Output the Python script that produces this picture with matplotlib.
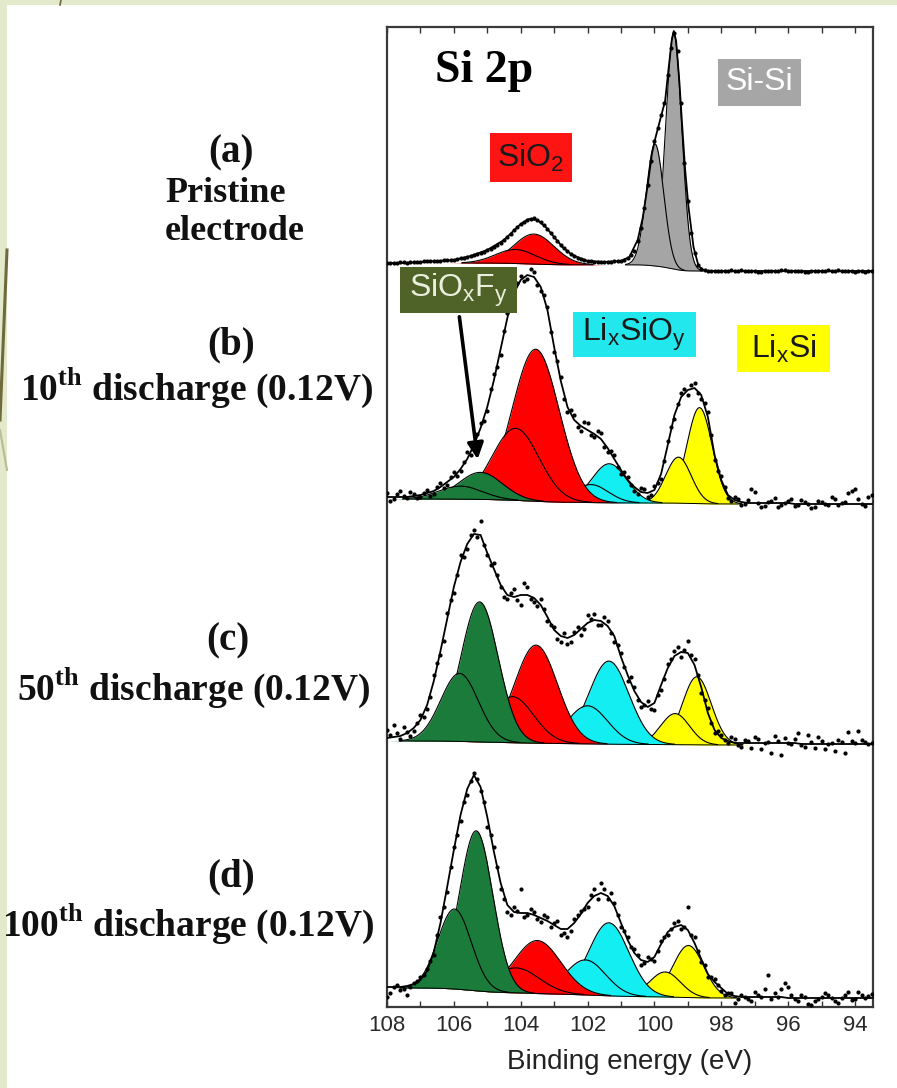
import numpy as np
import matplotlib
matplotlib.use("Agg")
import matplotlib.pyplot as plt
from matplotlib.patches import Rectangle, FancyArrowPatch
from matplotlib.lines import Line2D
from matplotlib.ticker import MultipleLocator, FixedLocator

plt.rcParams['font.family'] = ['Liberation Sans', 'DejaVu Sans']
plt.rcParams['mathtext.fontset'] = 'custom'
plt.rcParams['mathtext.rm'] = 'Liberation Sans'
plt.rcParams['mathtext.it'] = 'Liberation Sans'
plt.rcParams['mathtext.bf'] = 'Liberation Serif:bold'

# ---------------- data (intensity in arbitrary units above each spectrum's baseline) -------------
# measured points are sampled on two interleaved energy grids (eV)
GRID1 = (108.0, 93.4)   # first and last energy of set 1, step 0.2 eV
GRID2 = (107.9, 93.5)   # first and last energy of set 2, step 0.2 eV

# (a) pristine electrode -- measured points
DOTS_A = [10, 10, 11, 10, 11, 11, 12, 12, 12, 13,
          13, 15, 16, 18, 20, 23, 26, 30, 36, 43,
          49, 53, 55, 51, 44, 36, 28, 22, 17, 14,
          12, 11, 11, 11, 12, 12, 15, 22, 45, 88,
          132, 158, 198, 240, 170, 72, 20, 4, 2, 2,
          2, 2, 2, 3, 2, 2, 1, 2, 2, 3,
          2, 2, 2, 1, 2, 2, 3, 2, 2, 2,
          1, 2, 2, 2]
DOTS_A2 = [10, 10, 11, 11, 11, 12, 12, 12, 13, 13,
           14, 15, 17, 19, 21, 24, 28, 33, 39, 46,
           51, 54, 53, 48, 40, 32, 25, 19, 15, 13,
           12, 11, 11, 11, 12, 13, 18, 32, 65, 112,
           145, 170, 225, 222, 110, 40, 8, 3, 2, 2,
           2, 3, 2, 2, 2, 1, 2, 2, 2, 3,
           2, 2, 1, 2, 2, 2, 2, 3, 2, 2,
           2, 1, 2]
# (a) fitted envelope
ENV_A_E = [108.0, 107.5, 107.0, 106.5, 106.0, 105.5, 105.0, 104.5, 104.25, 104.0,
           103.75, 103.5, 103.25, 103.0, 102.75, 102.5, 102.25, 102.0, 101.5, 101.0,
           100.75, 100.5, 100.35, 100.2, 100.07, 99.97, 99.83, 99.68, 99.58, 99.48,
           99.42, 99.35, 99.25, 99.18, 99.08, 98.98, 98.83, 98.68, 98.5, 98.0,
           97.0, 96.0, 95.0, 94.0, 93.4]
ENV_A = [10, 10, 11, 12, 13, 17, 23, 33, 41, 49,
         54, 53, 46, 36, 26, 19, 15, 12, 11, 12,
         16, 33, 55, 88, 120, 135, 153, 172, 203, 233,
         242, 232, 190, 153, 103, 66, 26, 7, 2, 2,
         2, 2, 2, 2, 2]

# (b) 10th discharge
DOTS_B = [14, 8, 16, 9, 13, 10, 17, 13, 24, 22,
          35, 36, 55, 58, 84, 96, 133, 152, 194, 210,
          231, 228, 235, 216, 200, 155, 130, 95, 92, 76,
          84, 70, 74, 55, 52, 33, 30, 16, 19, 10,
          21, 28, 66, 88, 114, 112, 124, 108, 95, 47,
          31, 9, 10, 2, 7, 15, 0, 5, 9, 2,
          6, 1, 7, 3, 0, 5, 2, 8, 4, 14,
          18, 3, 10, 6]
DOTS_B2 = [6, 13, 11, 15, 9, 14, 11, 20, 19, 30,
           31, 45, 52, 73, 86, 118, 140, 176, 198, 224,
           226, 238, 222, 212, 175, 146, 108, 97, 80, 85,
           72, 76, 60, 56, 40, 35, 22, 13, 18, 12,
           24, 46, 80, 103, 118, 122, 114, 104, 72, 36,
           20, 6, 8, 3, 18, 4, 1, 6, 0, 4,
           8, 2, 5, -1, 6, 3, 10, 2, 5, 16,
           8, 1, 12]
ENV_B = [10, 10, 10, 10, 11, 12, 14, 16, 20, 25,
         30, 38, 48, 62, 79, 100, 127, 158, 189, 214,
         227, 232, 230, 220, 197, 160, 126, 100, 87, 81,
         77, 73, 68, 59, 48, 37, 27, 20, 15, 14,
         17, 33, 62, 92, 110, 117, 119, 112, 90, 52,
         27, 12, 7, 5, 4, 4, 4, 4, 4, 4,
         4, 3, 3, 3, 3, 3, 3, 3, 3, 3,
         3, 3, 3, 3]

# (c) 50th discharge
DOTS_C = [15, 20, 6, 13, 14, 30, 36, 70, 90, 132,
          152, 190, 196, 215, 224, 190, 182, 158, 146, 156,
          140, 158, 143, 146, 124, 118, 103, 101, 113, 110,
          130, 131, 120, 124, 103, 92, 64, 58, 38, 44,
          35, 55, 81, 94, 88, 104, 86, 52, 37, 12,
          10, 2, 6, -2, 4, 8, -4, 3, 9, -10,
          2, 6, 0, 10, -3, 4, 1, -6, 3, 13,
          2, 5, 1, 4]
DOTS_C2 = [10, 12, 18, 9, 22, 28, 48, 82, 104, 145,
           170, 188, 210, 208, 200, 180, 170, 148, 152, 145,
           162, 146, 139, 136, 120, 106, 112, 103, 118, 116,
           126, 120, 128, 112, 100, 78, 68, 45, 40, 36,
           50, 66, 86, 98, 95, 90, 70, 45, 22, 14,
           5, 8, 0, 5, -3, 6, 2, -8, 4, 7,
           1, 12, -2, 3, 8, -4, 2, 5, -8, 4,
           14, 3, 2]
ENV_C = [7, 8, 9, 12, 17, 25, 40, 64, 94, 126,
         158, 183, 201, 211, 210, 192, 176, 160, 150, 148,
         150, 150, 147, 140, 128, 115, 109, 107, 110, 116,
         122, 125, 124, 119, 109, 88, 70, 54, 43, 38,
         42, 60, 77, 89, 93, 92, 80, 58, 32, 15,
         7, 4, 2, 2, 2, 2, 2, 2, 2, 2,
         2, 2, 1, 1, 1, 1, 1, 1, 1, 1,
         1, 1, 1, 1]

# (d) 100th discharge
DOTS_D = [10, 20, 17, 12, 24, 30, 38, 52, 90, 115,
          160, 186, 212, 234, 216, 180, 160, 118, 95, 100,
          118, 92, 95, 85, 90, 84, 72, 70, 88, 96,
          100, 118, 124, 108, 104, 80, 70, 58, 42, 50,
          46, 66, 72, 84, 78, 100, 70, 45, 30, 28,
          16, 14, 4, 12, 8, 15, 10, 32, 14, 18,
          20, 8, 12, 3, 6, 10, 12, 6, 9, 15,
          8, 12, 11, 10]
DOTS_D2 = [14, 22, 18, 20, 26, 32, 46, 72, 100, 140,
           172, 205, 226, 228, 205, 172, 140, 108, 92, 96,
           90, 98, 88, 92, 80, 86, 74, 76, 92, 98,
           112, 108, 118, 114, 92, 76, 60, 52, 44, 48,
           56, 70, 78, 86, 80, 72, 56, 42, 30, 22,
           12, 14, 8, 10, 6, 12, 18, 8, 10, 24,
           12, 6, 10, 2, 8, 14, 9, 4, 12, 7,
           15, 9, 13]
ENV_D = [20, 20, 20, 21, 23, 27, 36, 55, 84, 120,
         157, 192, 218, 232, 220, 190, 155, 124, 102, 95,
         94, 94, 92, 89, 86, 82, 78, 78, 84, 93,
         104, 111, 114, 111, 101, 84, 67, 54, 47, 45,
         50, 63, 75, 80, 82, 77, 64, 48, 33, 25,
         19, 13, 11, 10, 10, 10, 10, 10, 10, 10,
         9, 9, 9, 9, 9, 9, 9, 9, 9, 9,
         9, 9, 9, 9]

# fitted components: centre (eV), height, gaussian width (eV), species
A_CENTERS = [103.6, 104.15, 99.42, 99.98]
A_HEIGHTS = [30, 14, 236, 122]
A_WIDTHS = [0.6, 0.6, 0.24, 0.26]
A_SPECIES = ['SiO2', 'SiO2', 'Si', 'Si']

B_CENTERS = [105.2, 105.8, 103.55, 104.15, 101.35, 101.9, 98.65, 99.28]
B_HEIGHTS = [27, 13, 152, 72, 39, 18, 96, 46]
B_WIDTHS = [0.65, 0.65, 0.7, 0.7, 0.52, 0.52, 0.38, 0.38]
B_SPECIES = ['SiOxFy', 'SiOxFy', 'SiO2', 'SiO2', 'LixSiOy', 'LixSiOy', 'LixSi', 'LixSi']

C_CENTERS = [105.23, 105.83, 103.54, 104.25, 101.36, 102.0, 98.73, 99.38]
C_HEIGHTS = [140, 68, 98, 46, 83, 38, 68, 31]
C_WIDTHS = [0.56, 0.56, 0.64, 0.64, 0.6, 0.6, 0.43, 0.43]
C_SPECIES = B_SPECIES

D_CENTERS = [105.33, 105.98, 103.5, 104.14, 101.36, 102.06, 98.98, 99.68]
D_HEIGHTS = [160, 80, 53, 25, 73, 35, 52, 25]
D_WIDTHS = [0.5, 0.5, 0.7, 0.7, 0.6, 0.6, 0.46, 0.46]
D_SPECIES = B_SPECIES

# background level at high / low binding energy side
BG_HIGH = [10, 8, 4, 19]
BG_LOW = [2, 3, 0, 9]

XTICKS = [108, 106, 104, 102, 100, 98, 96, 94]

# ---------------- style / layout ----------------
COLORS = {'SiO2': '#ff0000', 'Si': '#a5a5a5', 'SiOxFy': '#1b7b3a',
          'LixSiOy': '#12eef2', 'LixSi': '#ffff00'}
OFFSETS = [734, 500, 262, 0]

W, H = 897, 1088
fig = plt.figure(figsize=(W / 100, H / 100), dpi=100, facecolor='white')


def fx(x):
    return x / W


def fy(y):
    return 1 - y / H


# decorative template strips
fig.patches.append(Rectangle((0, 0), fx(7), 1, transform=fig.transFigure,
                             facecolor='#e2eacb', edgecolor='none', zorder=0))
fig.patches.append(Rectangle((0, fy(5)), 1, 5 / H, transform=fig.transFigure,
                             facecolor='#e2eacb', edgecolor='none', zorder=0))
fig.add_artist(Line2D([fx(7), fx(0)], [fy(250), fy(420)], transform=fig.transFigure,
                      color='#6e6a3c', lw=2.2))
fig.add_artist(Line2D([fx(0), fx(7)], [fy(430), fy(470)], transform=fig.transFigure,
                      color='#b9bd96', lw=1.5))
fig.add_artist(Line2D([fx(61), fx(60)], [fy(0), fy(5)], transform=fig.transFigure,
                      color='#6e6a3c', lw=1.2))

ax = fig.add_axes([fx(387), 1 - 1007 / H, fx(873 - 387), (1007 - 27) / H])
ax.set_xlim(108.0, 93.46)
ax.set_ylim(0, 980)

grid1 = np.linspace(GRID1[0], GRID1[1], len(DOTS_A))
grid2 = np.linspace(GRID2[0], GRID2[1], len(DOTS_A2))
fine = np.linspace(93.3, 108.1, 2000)

panels = [
    (A_CENTERS, A_HEIGHTS, A_WIDTHS, A_SPECIES, DOTS_A, DOTS_A2, (ENV_A_E, ENV_A)),
    (B_CENTERS, B_HEIGHTS, B_WIDTHS, B_SPECIES, DOTS_B, DOTS_B2, (grid1, ENV_B)),
    (C_CENTERS, C_HEIGHTS, C_WIDTHS, C_SPECIES, DOTS_C, DOTS_C2, (grid1, ENV_C)),
    (D_CENTERS, D_HEIGHTS, D_WIDTHS, D_SPECIES, DOTS_D, DOTS_D2, (grid1, ENV_D)),
]

z = 5
for k, (cen, hei, wid, spc, dots1, dots2, (env_e, env_y)) in enumerate(panels):
    off = OFFSETS[k]
    comps = [h * np.exp(-0.5 * ((fine - c) / w) ** 2) for c, h, w in zip(cen, hei, wid)]
    total = np.sum(comps, axis=0)
    cum = np.concatenate([[0], np.cumsum(0.5 * (total[1:] + total[:-1]) * np.diff(fine))])
    bg = BG_LOW[k] + (BG_HIGH[k] - BG_LOW[k]) * cum / cum[-1]
    order = np.argsort(cen)
    for i in order:
        g = comps[i]
        ax.fill_between(fine, off + bg, off + bg + g, color=COLORS[spc[i]],
                        linewidth=0, zorder=z)
        yl = np.where(g > 0.4, off + bg + g, np.nan)
        ax.plot(fine, yl, color='black', lw=0.8, zorder=z + 0.5)
        z += 1
    ybg = np.where(total > 0.4, off + bg, np.nan)
    ax.plot(fine, ybg, color='black', lw=0.7, zorder=z)
    ax.plot(env_e, np.asarray(env_y) + off, color='black', lw=1.3, zorder=50)
    for gx, dv in ((grid1, dots1), (grid2, dots2)):
        ax.plot(gx, np.asarray(dv) + off, linestyle='none', marker='o', ms=2.0,
                color='black', zorder=60)

for s in ax.spines.values():
    s.set_color('#3a3a3a')
    s.set_linewidth(1.6)
ax.set_yticks([])
ax.xaxis.set_major_locator(FixedLocator(XTICKS))
ax.xaxis.set_minor_locator(MultipleLocator(1))
ax.tick_params(axis='x', which='both', direction='in', top=True, bottom=True,
               length=4, width=1.0, color='#333333', labelsize=16, pad=6,
               labelcolor='#2a2a2a')
ax.set_xlabel('Binding energy (eV)', fontsize=20, color='#222222', labelpad=9)

# in-plot annotations
ax.text(0.098, 0.955, 'Si 2p', transform=ax.transAxes, fontsize=33, fontweight='bold',
        family='Liberation Serif', va='center', ha='left', zorder=70)


def label_box(x0, y0, x1, y1, face, text, tcolor, size=23):
    fig.patches.append(Rectangle((fx(x0), fy(y1)), fx(x1 - x0), (y1 - y0) / H,
                                 transform=fig.transFigure, facecolor=face,
                                 edgecolor='none', zorder=80))
    fig.text(fx((x0 + x1) / 2), fy((y0 + y1) / 2), text, color=tcolor, fontsize=size,
             ha='center', va='center', zorder=81)


label_box(490, 133, 572, 182, '#ff1414', r'SiO$_2$', '#1a1a1a')
label_box(718, 59, 801, 106, '#a6a6a6', 'Si-Si', 'white')
label_box(400, 267, 517, 313, '#4f6228', r'SiO$_x$F$_y$', '#e9efdc')
label_box(573, 312, 696, 357, '#22e8ee', r'Li$_x$SiO$_y$', '#1a1a1a')
label_box(737, 325, 830, 372, '#ffff00', r'Li$_x$Si', '#1a1a1a')

arrow = FancyArrowPatch(posA=(fx(459), fy(314)), posB=(fx(478), fy(462)),
                        transform=fig.transFigure, arrowstyle='-|>',
                        mutation_scale=24, lw=2.6, color='black', zorder=85)
fig.add_artist(arrow)

# sample labels on the left
serif = dict(family='Liberation Serif', fontweight='bold', color='#111111')
fig.text(fx(231), fy(153), '(a)', fontsize=28, ha='center', va='center', **serif)
fig.text(fx(165), fy(194), 'Pristine', fontsize=26, ha='left', va='center', **serif)
fig.text(fx(165), fy(231), 'electrode', fontsize=26, ha='left', va='center', **serif)
fig.text(fx(231), fy(345), '(b)', fontsize=28, ha='center', va='center', **serif)
fig.text(fx(197), fy(388), r'10$^{\mathbf{th}}$ discharge (0.12V)', fontsize=27,
         ha='center', va='center', **serif)
fig.text(fx(228), fy(641), '(c)', fontsize=28, ha='center', va='center', **serif)
fig.text(fx(194), fy(688), r'50$^{\mathbf{th}}$ discharge (0.12V)', fontsize=27,
         ha='center', va='center', **serif)
fig.text(fx(231), fy(877), '(d)', fontsize=28, ha='center', va='center', **serif)
fig.text(fx(188), fy(924), r'100$^{\mathbf{th}}$ discharge (0.12V)', fontsize=27,
         ha='center', va='center', **serif)

fig.savefig('out.png', dpi=100, facecolor='white')
